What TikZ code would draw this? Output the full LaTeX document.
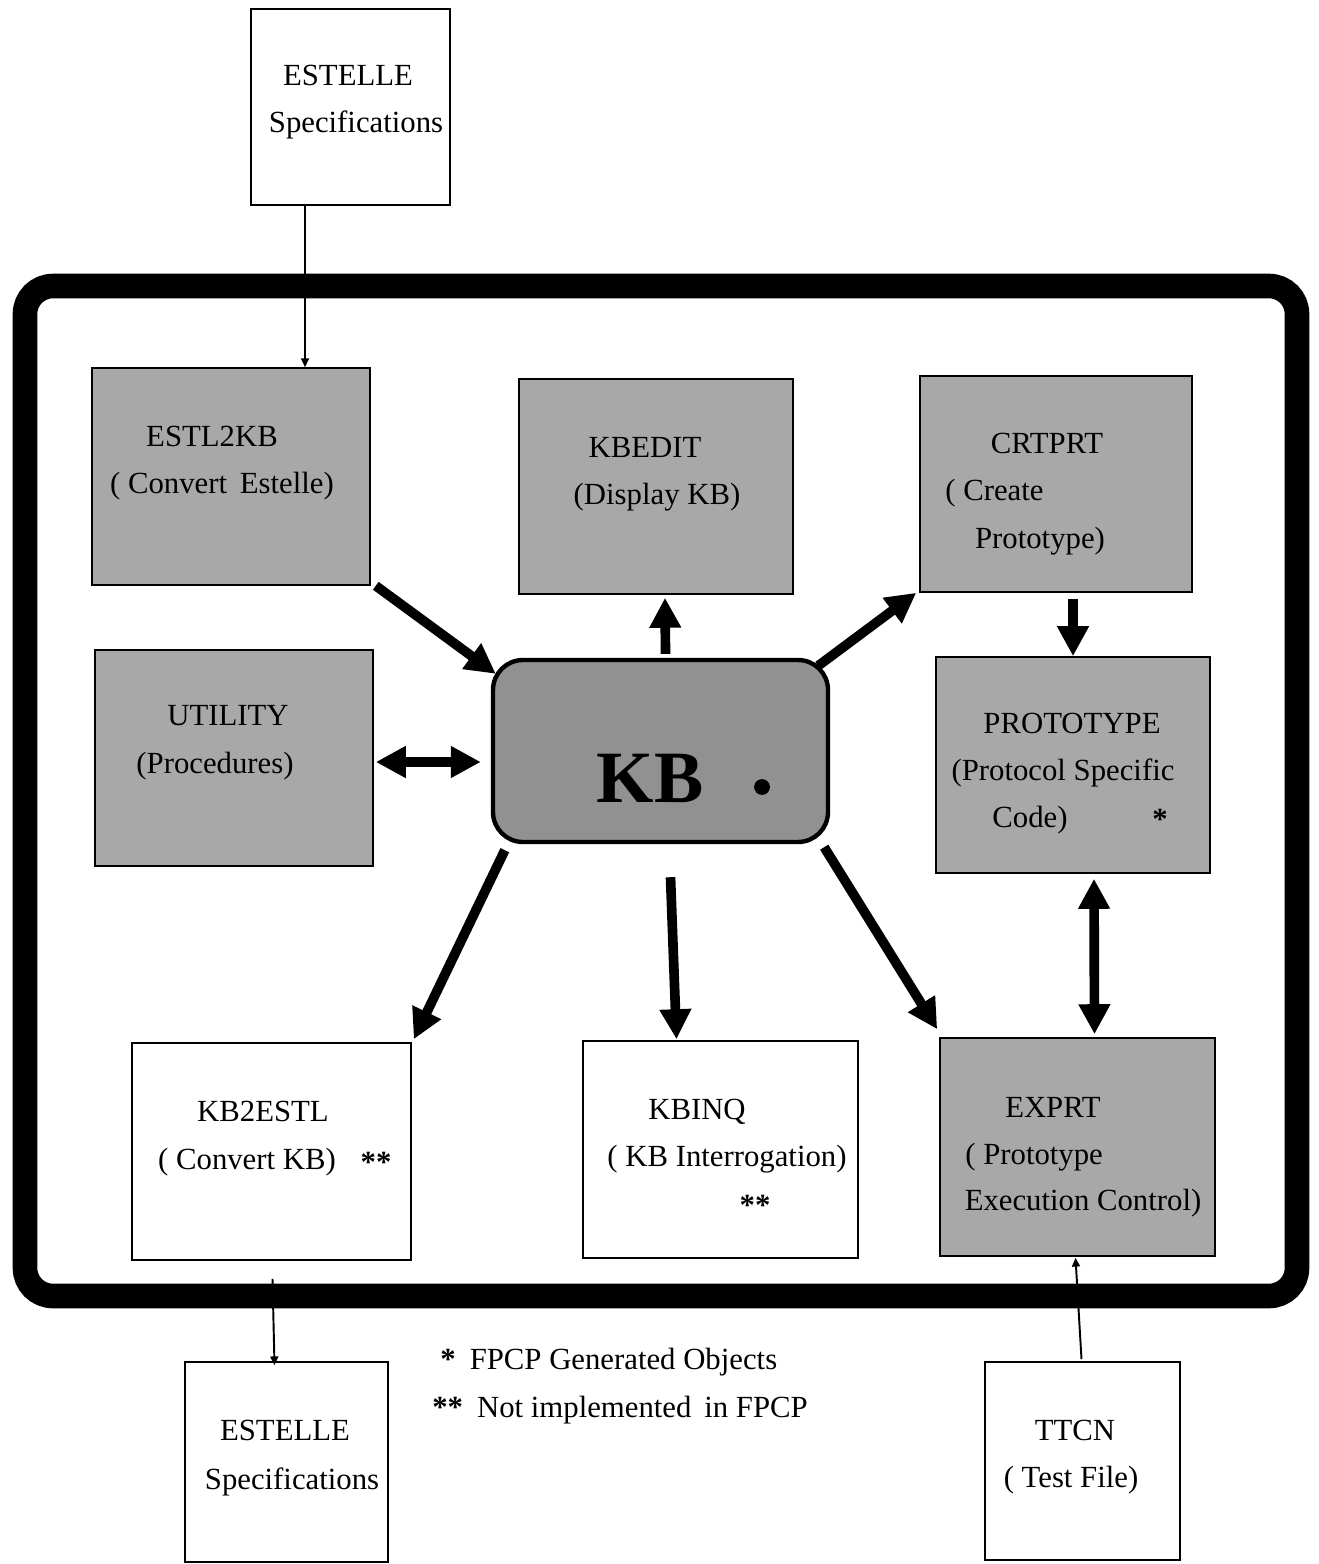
\documentclass[tikz,border=0pt]{standalone}
\usepackage{fontspec}
\setmainfont{Liberation Serif}
\usetikzlibrary{arrows.meta,fit,calc}

\definecolor{dither}{gray}{0.66}
\definecolor{kbdither}{gray}{0.57}

\tikzset{
  box/.style={draw, line width=0.9pt, inner sep=0pt},
  shadedbox/.style={box, fill=dither},
  lbl/.style={anchor=base, inner sep=0pt, font=\fontsize{17.5}{21}\selectfont},
  lblw/.style={lbl, anchor=base west},
  bigarrow/.style={line width=5.5pt, -{Triangle[length=0.6cm,width=0.6cm]}},
  bigboth/.style={line width=5.5pt, {Triangle[length=0.6cm,width=0.6cm]}-{Triangle[length=0.6cm,width=0.6cm]}},
  thinarrow/.style={line width=1.1pt, -{Triangle[length=5pt,width=4.5pt]}},
  frame/.style={line width=14pt, rounded corners=0.56cm}
}

\begin{document}
\begin{tikzpicture}[x=0.02cm, y=-0.02cm]
\useasboundingbox (0,0) rectangle (1318,1564);

% system frame
\draw[frame] (25,286) rectangle (1297,1296);

% outside inputs and outputs
\node[box, fit={(251,9) (450,205)}] (estin) {};
\node[lbl] (estinA) at (348,86) {ESTELLE};
\node[lbl] (estinB) at (356,133) {Specifications};

\node[box, fit={(185,1362) (388,1562)}] (estout) {};
\node[lbl] (estoutA) at (285,1440) {ESTELLE};
\node[lbl] (estoutB) at (292,1489) {Specifications};

\node[box, fit={(985,1362) (1180,1560)}] (ttcn) {};
\node[lbl] (ttcnA) at (1075,1440) {TTCN};
\node[lbl] (ttcnB) at (1071,1487) {( Test File)};

% modules
\node[shadedbox, fit={(92,368) (370,585)}] (estl2kb) {};
\node[lbl] (estl2kbA) at (212,446) {ESTL2KB};
\node[lbl] (estl2kbB) at (222,493) {( Convert\, Estelle)};

\node[shadedbox, fit={(519,379) (793,594)}] (kbedit) {};
\node[lbl] (kbeditA) at (645,457) {KBEDIT};
\node[lbl] (kbeditB) at (657,504) {(Display KB)};

\node[shadedbox, fit={(920,376) (1192,592)}] (crtprt) {};
\node[lbl] (crtprtA) at (1047,453) {CRTPRT};
\node[lblw] (crtprtB) at (945,500) {( Create};
\node[lbl] (crtprtC) at (1040,548) {Prototype)};

\node[shadedbox, fit={(95,650) (373,866)}] (utility) {};
\node[lbl] (utilityA) at (228,725) {UTILITY};
\node[lbl] (utilityB) at (215,773) {(Procedures)};

\node[draw, line width=2.5pt, fill=kbdither, rounded corners=0.6cm, inner sep=0pt,
      fit={(493,660) (828,842)}] (kb) {};
\node[anchor=base, inner sep=0pt, font=\fontsize{42}{46}\selectfont\bfseries] (kbA) at (650,802) {KB};
\node[circle, fill=black, inner sep=0pt, minimum size=9pt] (kbmark) at (762,787) {};

\node[shadedbox, fit={(936,657) (1210,873)}] (proto) {};
\node[lbl] (protoA) at (1072,733) {PROTOTYPE};
\node[lbl] (protoB) at (1063,780) {(Protocol Specific};
\node[lbl] (protoC) at (1030,827) {Code)};
\node[lbl] (protoD) at (1160,829) {\bfseries *};

\node[box, fit={(132,1043) (411,1260)}] (kb2estl) {};
\node[lbl] (kb2estlA) at (263,1121) {KB2ESTL};
\node[lbl] (kb2estlB) at (247,1169) {( Convert KB)};
\node[lbl] (kb2estlC) at (376,1172) {\bfseries **};

\node[box, fit={(583,1041) (858,1258)}] (kbinq) {};
\node[lbl] (kbinqA) at (697,1119) {KBINQ};
\node[lbl] (kbinqB) at (727,1166) {( KB Interrogation)};
\node[lbl] (kbinqC) at (755,1215) {\bfseries **};

\node[shadedbox, fit={(940,1038) (1215,1256)}] (exprt) {};
\node[lbl] (exprtA) at (1053,1117) {EXPRT};
\node[lblw] (exprtB) at (965,1164) {( Prototype};
\node[lbl] (exprtC) at (1083,1210) {Execution Control)};

% legend
\node[lblw] (legA) at (440,1369) {\textbf{*}\hspace{8pt}FPCP Generated Objects};
\node[lblw] (legB) at (432,1417) {\textbf{**}\hspace{8pt}Not implemented\, in FPCP};

% data flow between modules
\draw[bigarrow] ($(estl2kb.south east)+(5,0)$) -- ($(kb.north west)+(5,16)$);
\draw[bigarrow] ($(kb.north)+(5,-4)$) -- ($(kbedit.south)+(9,3)$);
\draw[bigarrow] ($(kb.north east)+(-12,8)$) -- ($(crtprt.south west)+(-3,0)$);
\draw[bigarrow] ($(crtprt.south)+(17,6)$) -- ($(proto.north)+(0,0)$);
\draw[bigboth] ($(utility.east)+(2,4)$) -- ($(kb.west)+(-10,11)$);
\draw[bigarrow] ($(kb.south west)+(14,6)$) -- ($(kb2estl.north east)+(2,-3)$);
\draw[bigarrow] ($(kb.south)+(10,33)$) -- ($(kbinq.north)+(-44,-1)$);
\draw[bigarrow] ($(kb.south east)+(-6,3)$) -- ($(exprt.north west)+(-2,-8)$);
\draw[bigboth] ($(proto.south)+(21,5)$) -- ($(exprt.north)+(17,-3)$);

% external files
\draw[thinarrow] (estin.south -| 305,0) -- (estl2kb.north -| 305,0);
\draw[thinarrow] ($(kb2estl.south)+(1,18)$) -- ($(estout.north)+(-12,4)$);
\draw[thinarrow] ($(ttcn.north)+(-1,-2)$) -- ($(exprt.south)+(-2,1)$);
\end{tikzpicture}
\end{document}
